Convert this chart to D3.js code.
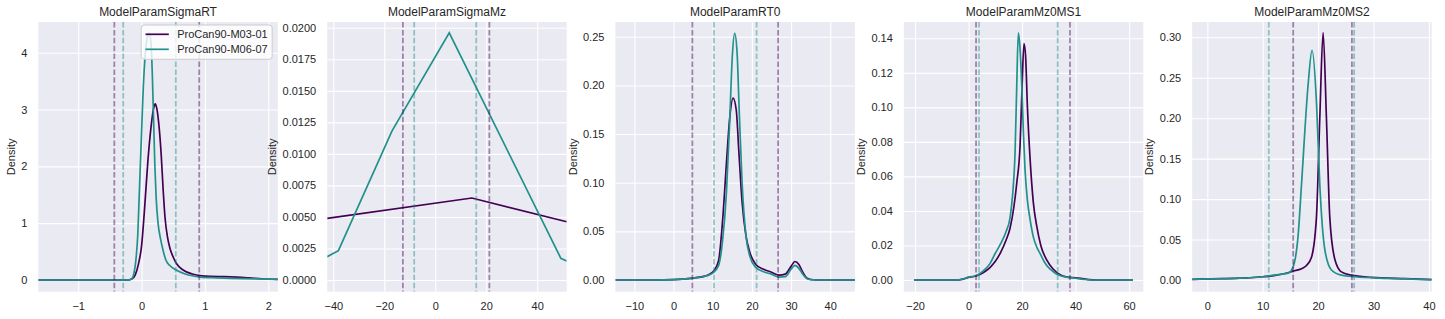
<!DOCTYPE html>
<html>
<head>
<meta charset="utf-8">
<script src="https://cdn.jsdelivr.net/npm/d3@7"></script>
<style>
body { margin: 0; background: #fff; }
svg text { font-family: "Liberation Sans", Arial, sans-serif; fill: #262626; }
</style>
</head>
<body>
<div id="chart"></div>
<script>
/* Data */
var titles = ["ModelParamSigmaRT", "ModelParamSigmaMz", "ModelParamRT0", "ModelParamMz0MS1", "ModelParamMz0MS2"];
var seriesNames = ["ProCan90-M03-01", "ProCan90-M06-07"];

var sigmaRT_M03 = [[-1.63,0],[-0.3,0],[-0.2,0.003],[-0.15,0.02],[-0.1,0.09],[-0.05,0.28],[0,0.6],[0.05,1.3],[0.1,2.1],[0.15,2.7],[0.19,3.02],[0.215,3.1],[0.24,3.02],[0.28,2.65],[0.31,2.2],[0.34,1.6],[0.37,1.1],[0.41,0.75],[0.45,0.55],[0.5,0.4],[0.55,0.29],[0.65,0.18],[0.8,0.105],[0.95,0.072],[1.1,0.062],[1.3,0.058],[1.5,0.05],[1.7,0.037],[1.9,0.022],[2.15,0.01]];
var sigmaRT_M06 = [[-1.63,0],[-0.3,0],[-0.2,0.002],[-0.15,0.03],[-0.12,0.12],[-0.09,0.35],[-0.06,0.8],[-0.04,1.4],[-0.02,2.0],[0,2.6],[0.02,3.2],[0.05,3.85],[0.08,4.2],[0.12,4.35],[0.15,4.15],[0.17,3.6],[0.19,2.8],[0.21,2.0],[0.23,1.45],[0.26,1.0],[0.3,0.72],[0.34,0.52],[0.38,0.36],[0.45,0.25],[0.54,0.18],[0.7,0.1],[0.9,0.055],[1.1,0.04],[1.4,0.03],[1.8,0.018],[2.15,0.01]];

var sigmaMz_M03 = [[-42.4,0.00489],[14.4,0.0065],[51.6,0.00462]];
var sigmaMz_M06 = [[-42.4,0.00185],[-38,0.00232],[-17,0.0118],[5.5,0.0196],[49.3,0.00172],[51.6,0.0015]];

var rt0_M03 = [[-14.85,0],[-5,0],[0,0.0003],[5,0.002],[8,0.004],[10,0.008],[11.5,0.02],[12.5,0.06],[13.5,0.12],[14.3,0.165],[15.2,0.187],[16,0.175],[16.7,0.13],[17.5,0.08],[18.5,0.045],[19.5,0.028],[21,0.016],[23,0.011],[25,0.008],[27,0.005],[28.5,0.006],[30,0.014],[31,0.019],[32,0.016],[33,0.008],[34,0.002],[35,0.0005],[36.5,0],[46.3,0]];
var rt0_M06 = [[-14.85,0],[-5,0],[0,0.0003],[5,0.002],[8,0.0038],[10,0.007],[11.5,0.015],[12.5,0.04],[13.5,0.09],[14.3,0.16],[15,0.23],[15.6,0.2535],[16.2,0.235],[16.8,0.17],[17.5,0.1],[18.5,0.045],[19.5,0.024],[21,0.013],[23,0.0085],[25,0.006],[27,0.003],[28.5,0.0035],[30,0.011],[31,0.015],[32,0.012],[33,0.006],[34,0.0015],[35,0.0003],[36.5,0],[46.3,0]];

var mz0ms1_M03 = [[-20.4,0],[-5,0],[-2,0.0005],[0,0.0015],[2,0.002],[4,0.003],[6,0.0048],[8,0.0072],[10,0.0108],[12,0.016],[14,0.023],[15.5,0.03],[17,0.043],[18,0.056],[19.25,0.078],[20,0.112],[20.7,0.137],[21.3,0.13],[22,0.1],[23,0.07],[24.2,0.045],[25.5,0.031],[27,0.02],[29.2,0.0116],[31.5,0.0065],[34.2,0.003],[37,0.0017],[40,0.0013],[42,0.0009],[45,0.0002],[48,0],[61.4,0]];
var mz0ms1_M06 = [[-20.4,0],[-5,0],[-2,0.0006],[0,0.0017],[2,0.0022],[4,0.0035],[6,0.006],[8,0.0095],[10,0.0155],[12,0.021],[14,0.028],[15.5,0.036],[16.5,0.05],[17.4,0.075],[18,0.112],[18.6,0.1432],[19.2,0.135],[19.9,0.112],[20.5,0.085],[21.1,0.064],[22,0.046],[23,0.035],[24.2,0.025],[25.5,0.019],[26.7,0.0154],[28.5,0.01],[30,0.007],[31.7,0.0048],[33.5,0.003],[36,0.0018],[40,0.001],[43,0.0004],[46,0],[61.4,0]];

var mz0ms2_M03 = [[-2.73,0.0008],[0,0.0015],[5,0.002],[10,0.004],[12,0.0055],[14,0.008],[15.5,0.011],[17,0.014],[17.9,0.018],[18.8,0.028],[19.7,0.078],[20.3,0.2],[20.9,0.3057],[21.5,0.2],[22.1,0.078],[23,0.026],[24.2,0.01],[26,0.006],[29.6,0.0033],[35.7,0.0016],[40.5,0.0005]];
var mz0ms2_M06 = [[-2.73,0.0008],[0,0.0013],[5,0.002],[10,0.004],[12,0.006],[14.6,0.0085],[15.5,0.0165],[16.4,0.056],[17,0.118],[18.2,0.242],[18.9,0.284],[19.7,0.22],[20.3,0.118],[21.2,0.038],[22.4,0.0124],[24.2,0.006],[26.6,0.004],[32.7,0.002],[40.5,0.0005]];

var cutoffs_M03 = [[-0.43, 0.91], [-12.7, 21.25], [4.8, 26.7], [2.8, 37.9], [15.5, 26.1]];
var cutoffs_M06 = [[-0.29, 0.54], [-8.25, 16.1], [10.3, 21.2], [3.9, 33.3], [11.1, 26.5]];

var xLimits = [[-1.63, 2.15], [-42.4, 51.6], [-14.85, 46.3], [-24.2, 65.3], [-2.73, 40.5]];
var yLimits = [[-0.206, 4.54], [-0.00093, 0.02046], [-0.01203, 0.2652], [-0.00678, 0.14944], [-0.01446, 0.3189]];
var xTicks = [[-1, 0, 1, 2], [-40, -20, 0, 20, 40], [-10, 0, 10, 20, 30, 40], [-20, 0, 20, 40, 60], [0, 10, 20, 30, 40]];
var yTicks = [[0, 1, 2, 3, 4],
  [0, 0.0025, 0.005, 0.0075, 0.01, 0.0125, 0.015, 0.0175, 0.02],
  [0, 0.05, 0.1, 0.15, 0.2, 0.25],
  [0, 0.02, 0.04, 0.06, 0.08, 0.1, 0.12, 0.14],
  [0, 0.05, 0.1, 0.15, 0.2, 0.25, 0.3]];
var yDecimals = [0, 4, 2, 2, 2];

var seriesM03 = [sigmaRT_M03, sigmaMz_M03, rt0_M03, mz0ms1_M03, mz0ms2_M03];
var seriesM06 = [sigmaRT_M06, sigmaMz_M06, rt0_M06, mz0ms1_M06, mz0ms2_M06];
var linearPanels = [false, true, false, false, false];

/* Layout */
var width = 1445, height = 319;
var colors = ["#440154", "#21918c"];
var plotTop = 22, plotBottom = 291.7, plotW = 239.5;
var plotLefts = [38.3, 327.2, 615.4, 903.8, 1192.2];

var svg = d3.select("#chart").append("svg")
  .attr("width", width)
  .attr("height", height);

titles.forEach(function (title, i) {
  var L = plotLefts[i];
  var xScale = d3.scaleLinear().domain(xLimits[i]).range([L, L + plotW]);
  var yScale = d3.scaleLinear().domain(yLimits[i]).range([plotBottom, plotTop]);
  var g = svg.append("g");

  g.append("rect")
    .attr("x", L).attr("y", plotTop)
    .attr("width", plotW).attr("height", plotBottom - plotTop)
    .attr("fill", "#eaeaf2");

  // axes with gridlines
  var xAxis = g.append("g")
    .attr("transform", "translate(0," + plotBottom + ")")
    .call(d3.axisBottom(xScale).tickValues(xTicks[i]).tickSize(-(plotBottom - plotTop))
      .tickPadding(10.5).tickFormat(d3.format(".0f")));
  var yAxis = g.append("g")
    .attr("transform", "translate(" + L + ",0)")
    .call(d3.axisLeft(yScale).tickValues(yTicks[i]).tickSize(-plotW)
      .tickPadding(11).tickFormat(d3.format("." + yDecimals[i] + "f")));
  [xAxis, yAxis].forEach(function (ax) {
    ax.select(".domain").remove();
    ax.selectAll("line").attr("stroke", "#fff").attr("stroke-width", 1.1);
    ax.selectAll("text").attr("font-size", 11);
    ax.attr("font-family", null).attr("font-size", null);
  });

  // clip
  var clipId = "clip" + i;
  svg.append("clipPath").attr("id", clipId).append("rect")
    .attr("x", L).attr("y", plotTop).attr("width", plotW).attr("height", plotBottom - plotTop);

  var line = d3.line()
    .x(function (d) { return xScale(d[0]); })
    .y(function (d) { return yScale(d[1]); })
    .curve(linearPanels[i] ? d3.curveLinear : d3.curveMonotoneX);

  var plot = g.append("g").attr("clip-path", "url(#" + clipId + ")");
  [seriesM03[i], seriesM06[i]].forEach(function (s, k) {
    plot.append("path")
      .attr("d", line(s))
      .attr("fill", "none")
      .attr("stroke", colors[k])
      .attr("stroke-width", 1.7);
  });
  [cutoffs_M03[i], cutoffs_M06[i]].forEach(function (cuts, k) {
    cuts.forEach(function (c) {
      plot.append("line")
        .attr("x1", xScale(c)).attr("x2", xScale(c))
        .attr("y1", plotTop).attr("y2", plotBottom)
        .attr("stroke", colors[k])
        .attr("stroke-opacity", 0.45)
        .attr("stroke-width", 1.8)
        .attr("stroke-dasharray", "5.5,2.4");
    });
  });

  // title
  g.append("text")
    .attr("x", L + plotW / 2).attr("y", 16)
    .attr("text-anchor", "middle")
    .attr("font-size", 12)
    .text(title);

  // y label placed left of the widest tick label
  var maxW = 0;
  yAxis.selectAll("text").each(function () {
    maxW = Math.max(maxW, this.getComputedTextLength());
  });
  var bx = L - 11 - maxW - 4 - 2.3;
  svg.append("text")
    .attr("transform", "translate(" + bx + "," + ((plotTop + plotBottom) / 2) + ") rotate(-90)")
    .attr("text-anchor", "middle")
    .attr("font-size", 11)
    .text("Density");

  // legend on the first panel
  if (i === 0) {
    var lx = L + plotW - 5.6 - 131, ly = 25;
    var leg = g.append("g");
    leg.append("rect")
      .attr("x", lx).attr("y", ly).attr("width", 131).attr("height", 34.3)
      .attr("rx", 3)
      .attr("fill", "#fff").attr("fill-opacity", 0.8)
      .attr("stroke", "#cccccc").attr("stroke-width", 1);
    seriesNames.forEach(function (name, k) {
      var ry = ly + 9.3 + k * 15;
      leg.append("line")
        .attr("x1", lx + 4.3).attr("x2", lx + 27.6)
        .attr("y1", ry).attr("y2", ry)
        .attr("stroke", colors[k]).attr("stroke-width", 1.7);
      leg.append("text")
        .attr("x", lx + 36).attr("y", ry).attr("dy", "0.35em")
        .attr("font-size", 11)
        .text(name);
    });
  }
});
</script>
</body>
</html>
